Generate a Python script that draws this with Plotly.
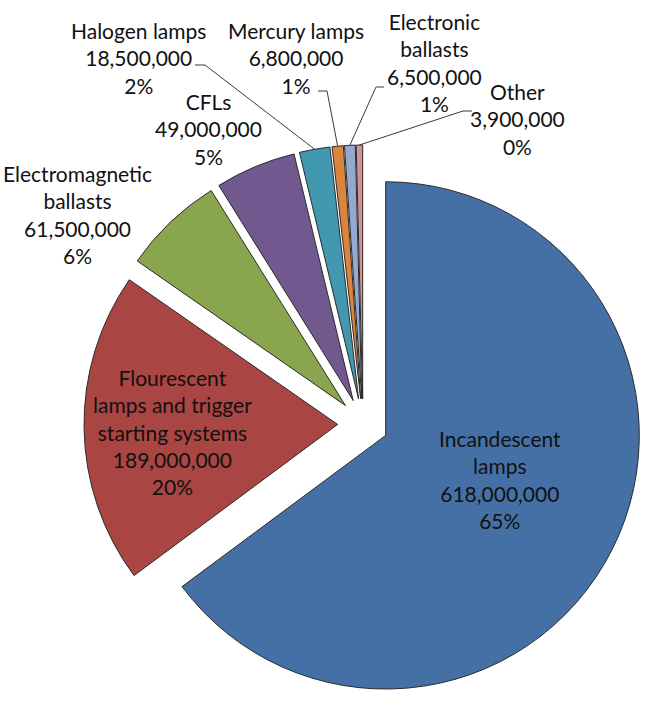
import math
import plotly.graph_objects as go

# ---- data ----
categories = ["Incandescent lamps", "Flourescent lamps and trigger starting systems",
              "Electromagnetic ballasts", "CFLs", "Halogen lamps", "Mercury lamps",
              "Electronic ballasts", "Other"]
label_lines = ["Incandescent<br>lamps", "Flourescent<br>lamps and trigger<br>starting systems",
               "Electromagnetic<br>ballasts", "CFLs", "Halogen lamps", "Mercury lamps",
               "Electronic<br>ballasts", "Other"]
values = [618000000, 189000000, 61500000, 49000000, 18500000, 6800000, 6500000, 3900000]
colors = ["#4470A6", "#A94542", "#89A54E", "#71588F", "#4198AF", "#DB843D", "#93A9CF", "#D19392"]

# ---- layout geometry (pixels) ----
W, H = 647, 703
CX, CY, HALF = 363, 424, 279
PULL = 0.10
FONT = dict(family="Lato, Carlito, Calibri, sans-serif", size=21, color="#111111")

# label centres (pixels) and leader-line anchor points near each label
label_pos = [(500, 480), (172, 432), (77, 214), (208, 129), (138, 58), (296, 58), (435, 62), (517, 119)]
leader_start = {4: [(195, 65), (205, 65)], 5: [(318, 91), (327, 91)],
                6: [(384, 87), (376, 87)], 7: [(472, 111), (463, 111)]}

dx0, dx1 = (CX - HALF) / W, (CX + HALF) / W
dy0, dy1 = 0.0, 1 - (CY - HALF) / H

fig = go.Figure(go.Pie(
    labels=categories, values=values, sort=False, direction="clockwise", rotation=0,
    marker=dict(colors=colors, line=dict(color="#2b2b2b", width=1)),
    pull=[PULL] * len(values), textinfo="none", hoverinfo="label+value+percent",
    domain=dict(x=[dx0, dx1], y=[dy0, dy1]), showlegend=False,
))

total = sum(values)
r = HALF / (1 + PULL)
annotations, shapes = [], []
cum = 0.0
for i, v in enumerate(values):
    frac = v / total
    mid = (cum + frac / 2) * 2 * math.pi
    cum += frac
    pct = round(frac * 100)
    text = f"{label_lines[i]}<br>{v:,}<br>{pct}%"
    lx, ly = label_pos[i]
    annotations.append(dict(x=lx / W, y=1 - ly / H, xref="paper", yref="paper", text=text,
                            showarrow=False, font=FONT, align="center",
                            xanchor="center", yanchor="middle"))
    if i in leader_start:
        # outer edge point of the pulled slice at its mid angle
        ex = CX + (r * PULL + r) * math.sin(mid)
        ey = CY - (r * PULL + r) * math.cos(mid)
        pts = leader_start[i] + [(ex, ey)]
        path = "M " + " L ".join(f"{px / W},{1 - py / H}" for px, py in pts)
        shapes.append(dict(type="path", path=path, xref="paper", yref="paper",
                           line=dict(color="#3a3a3a", width=1)))

fig.update_layout(width=W, height=H, margin=dict(l=0, r=0, t=0, b=0),
                  paper_bgcolor="white", plot_bgcolor="white",
                  annotations=annotations, shapes=shapes)
fig.write_html("out.html")
